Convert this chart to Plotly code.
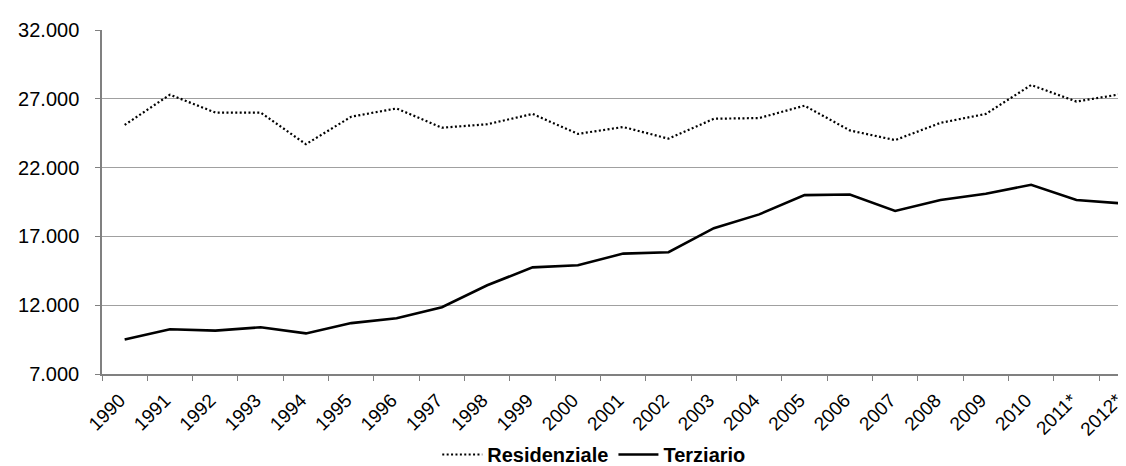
import plotly.graph_objects as go

years = ["1990", "1991", "1992", "1993", "1994", "1995", "1996", "1997", "1998", "1999",
         "2000", "2001", "2002", "2003", "2004", "2005", "2006", "2007", "2008", "2009",
         "2010", "2011*", "2012*"]
residenziale = [25100, 27300, 26000, 26000, 23700, 25700, 26300, 24900, 25150, 25900,
                24450, 24950, 24100, 25550, 25600, 26500, 24700, 24000, 25250, 25900,
                28000, 26800, 27350]
terziario = [9500, 10250, 10150, 10400, 9950, 10700, 11050, 11850, 13450, 14750,
             14900, 15750, 15850, 17600, 18600, 20000, 20050, 18850, 19650, 20100,
             20750, 19650, 19400]
y_ticks = [7000, 12000, 17000, 22000, 27000, 32000]

FONT = "Liberation Sans, Arial, sans-serif"

fig = go.Figure()
fig.add_trace(go.Scatter(x=years, y=residenziale, name="Residenziale", mode="lines",
                         line=dict(color="#000000", width=2.2, dash="2px,2.4px")))
fig.add_trace(go.Scatter(x=years, y=terziario, name="Terziario", mode="lines",
                         line=dict(color="#000000", width=2.6)))

fig.update_layout(
    width=1126, height=466,
    margin=dict(l=94, r=0, t=22, b=92),
    paper_bgcolor="white", plot_bgcolor="white",
    separators=",.",
    font=dict(family=FONT, color="#000000"),
    showlegend=True,
    legend=dict(orientation="h", x=0.477, xanchor="center", y=-0.235, yanchor="middle",
                font=dict(family=FONT, size=20, weight="bold"),
                itemwidth=40, bgcolor="rgba(0,0,0,0)"),
    xaxis=dict(type="category", range=[-0.5, 22.27], showgrid=False,
               showline=True, linecolor="#808080", linewidth=1.5,
               ticks="outside", ticklen=5, tickcolor="#808080", tickwidth=1.3,
               tickson="boundaries", tickangle=-45,
               tickfont=dict(family=FONT, size=19), ticklabelstandoff=6,
               ticklabelshift=-5,
               zeroline=False),
    yaxis=dict(range=[7000, 32000], tickvals=y_ticks, tickformat=",d",
               showgrid=True, gridcolor="#a0a0a0", gridwidth=1,
               showline=True, linecolor="#808080", linewidth=1.5,
               ticks="outside", ticklen=5, tickcolor="#808080", tickwidth=1.3,
               tickfont=dict(family=FONT, size=20), ticklabelstandoff=12,
               zeroline=False),
)

fig.write_html("out.html")
